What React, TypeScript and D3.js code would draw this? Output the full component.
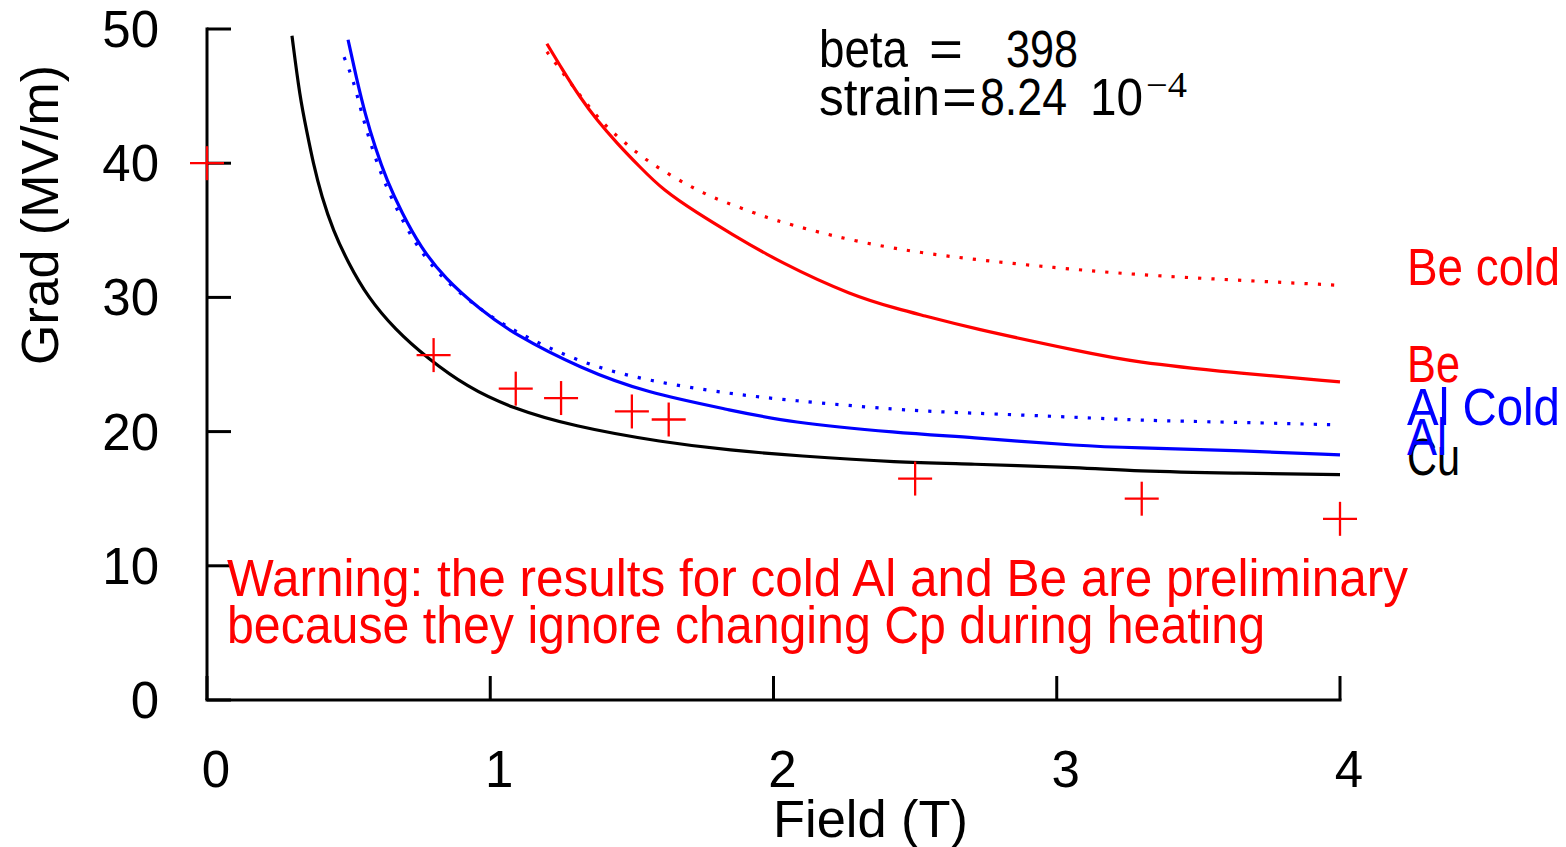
import React from "react";
import * as d3 from "d3";

// ---- data ----
const xTicks = [0, 1, 2, 3, 4];
const yTicks = [0, 10, 20, 30, 40, 50];

const cuField = [0.30, 0.328, 0.353, 0.375, 0.405, 0.445, 0.498, 0.568, 0.664, 0.776, 0.92, 1.07, 1.29, 1.61, 1.85, 2.08, 2.447, 2.68, 3.1, 3.27, 3.62, 4.0];
const cuGrad = [49.5, 44.9, 42.3, 40.0, 37.5, 35.0, 32.6, 30.0, 27.6, 25.5, 23.3, 21.8, 20.4, 19.2, 18.6, 18.2, 17.7, 17.6, 17.3, 17.06, 16.9, 16.8];

const alField = [0.498, 0.529, 0.558, 0.593, 0.635, 0.688, 0.752, 0.84, 0.964, 1.08, 1.32, 1.55, 1.85, 2.05, 2.447, 2.68, 3.1, 3.27, 3.62, 4.0];
const alGrad = [49.2, 46.2, 43.7, 41.2, 38.7, 36.3, 33.8, 31.4, 29.1, 27.3, 24.7, 22.9, 21.6, 20.7, 19.9, 19.6, 18.9, 18.8, 18.6, 18.26];

const alColdField = [0.484, 0.517, 0.546, 0.581, 0.623, 0.676, 0.74, 0.83, 0.958, 1.08, 1.32, 1.55, 1.85, 2.05, 2.447, 2.67, 3.1, 3.27, 3.62, 4.0];
const alColdGrad = [47.9, 46.2, 43.7, 41.2, 38.7, 36.3, 33.8, 31.4, 29.2, 27.5, 25.1, 23.8, 22.8, 22.35, 21.6, 21.4, 21.05, 20.85, 20.7, 20.5];

const beField = [1.2, 1.257, 1.317, 1.377, 1.447, 1.529, 1.61, 1.73, 1.846, 2.023, 2.28, 2.447, 2.52, 2.69, 3.1, 3.27, 3.62, 4.0];
const beGrad = [48.9, 46.9, 44.9, 43.2, 41.5, 39.7, 38.0, 36.3, 34.8, 32.6, 30.1, 29.1, 28.7, 27.75, 25.9, 25.2, 24.4, 23.7];

const beColdField = [1.2, 1.229, 1.282, 1.341, 1.405, 1.476, 1.546, 1.628, 1.712, 1.79, 1.88, 1.97, 2.016, 2.2, 2.43, 2.67, 3.0, 3.27, 3.62, 4.0];
const beColdGrad = [48.3, 47.5, 46.0, 44.4, 42.8, 41.5, 40.3, 39.2, 38.2, 37.4, 36.7, 36.0, 35.7, 34.6, 33.6, 32.9, 32.2, 31.7, 31.3, 30.9];

const measField = [0.0, 0.8, 1.09, 1.25, 1.5, 1.63, 2.5, 3.3, 4.0];
const measGrad = [40.0, 25.7, 23.2, 22.5, 21.5, 20.9, 16.5, 15.0, 13.5];

const warningLines = [
  "Warning: the results for cold Al and Be are preliminary",
  "because they ignore changing Cp during heating",
];

const RED = "#ff0000";
const BLUE = "#0000ff";
const BLACK = "#000000";
const FONT = "'Liberation Sans', Arial, sans-serif";
const SERIF = "'Liberation Serif', 'DejaVu Serif', serif";
const FS = 51;

const series = [
  { name: "Cu", fx: cuField, fy: cuGrad, color: BLACK, dotted: false, label: "Cu", len: 53 },
  { name: "Al", fx: alField, fy: alGrad, color: BLUE, dotted: false, label: "Al", len: 40 },
  { name: "AlCold", fx: alColdField, fy: alColdGrad, color: BLUE, dotted: true, label: "Al Cold", len: 153 },
  { name: "Be", fx: beField, fy: beGrad, color: RED, dotted: false, label: "Be", len: 53 },
  { name: "BeCold", fx: beColdField, fy: beColdGrad, color: RED, dotted: true, label: "Be cold", len: 153 },
];

function T(props: any) {
  const { x, y, children, len, fill = BLACK, size = FS, family = FONT, anchor = "start", transform } = props;
  return (
    <text
      x={x}
      y={y}
      fill={fill}
      fontSize={size}
      fontFamily={family}
      textAnchor={anchor}
      transform={transform}
      textLength={len}
      lengthAdjust={len ? "spacingAndGlyphs" : undefined}
    >
      {children}
    </text>
  );
}

export default function App() {
  const W = 1566;
  const H = 847;
  const x = d3.scaleLinear().domain([0, 4]).range([207, 1340]);
  const y = d3.scaleLinear().domain([0, 50]).range([700, 29]);

  const line = d3
    .line<[number, number]>()
    .x((d) => x(d[0]))
    .y((d) => y(d[1]))
    .curve(d3.curveBasis);

  return (
    <div style={{ position: "fixed", left: 0, top: 0, width: W, height: H, background: "#fff" }}>
      <svg width={W} height={H} viewBox={`0 0 ${W} ${H}`} style={{ display: "block" }}>
        {/* axes */}
        <line x1={x(0)} x2={x(0)} y1={y(50) - 1.5} y2={y(0)} stroke={BLACK} strokeWidth={3} />
        <line x1={x(0) - 1.5} x2={x(4) + 1.5} y1={y(0)} y2={y(0)} stroke={BLACK} strokeWidth={3} />
        {yTicks.map((t) => (
          <g key={"yt" + t}>
            <line x1={x(0)} x2={x(0) + 24} y1={y(t)} y2={y(t)} stroke={BLACK} strokeWidth={3} />
            <T x={159} y={y(t) + 18} anchor="end">
              {String(t)}
            </T>
          </g>
        ))}
        {xTicks.map((t) => (
          <g key={"xt" + t}>
            <line x1={x(t)} x2={x(t)} y1={y(0)} y2={y(0) - 24} stroke={BLACK} strokeWidth={3} />
            <T x={x(t) + 9} y={787} anchor="middle">
              {String(t)}
            </T>
          </g>
        ))}

        {/* axis titles */}
        <T x={773} y={837} len={195}>Field (T)</T>
        <T x={0} y={0} len={300} transform={`translate(58,365) rotate(-90)`}>Grad (MV/m)</T>

        {/* curves */}
        {series.map((s) => {
          const pts = s.fx.map((v, i) => [v, s.fy[i]] as [number, number]);
          return (
            <path
              key={s.name}
              d={line(pts) || ""}
              fill="none"
              stroke={s.color}
              strokeWidth={3.2}
              strokeDasharray={s.dotted ? "3.2 10.1" : undefined}
              strokeLinecap="butt"
              strokeLinejoin="round"
            />
          );
        })}

        {/* measured points */}
        {measField.map((v, i) => {
          const cx = x(v);
          const cy = y(measGrad[i]);
          return (
            <g key={"m" + i} stroke={RED} strokeWidth={2.3}>
              <line x1={cx - 17} x2={cx + 17} y1={cy} y2={cy} />
              <line x1={cx} x2={cx} y1={cy - 17} y2={cy + 17} />
            </g>
          );
        })}

        {/* end labels */}
        {series.map((s) => (
          <T key={"l" + s.name} x={1407} y={y(s.fy[s.fy.length - 1])} fill={s.color} len={s.len}>
            {s.label}
          </T>
        ))}

        {/* annotation */}
        <T x={819} y={67} len={89}>beta</T>
        <T x={929} y={67} len={34}>=</T>
        <T x={1006} y={67} len={72}>398</T>
        <T x={819} y={115} len={121}>strain</T>
        <T x={942} y={115} len={35}>=</T>
        <T x={980} y={115} len={87}>8.24</T>
        <T x={1090} y={115} len={53}>10</T>
        <T x={1146} y={97} len={41} size={35} family={SERIF}>−4</T>

        {/* warning */}
        <T x={227} y={596} fill={RED} len={1181}>{warningLines[0]}</T>
        <T x={227} y={643} fill={RED} len={1038}>{warningLines[1]}</T>
      </svg>
    </div>
  );
}
